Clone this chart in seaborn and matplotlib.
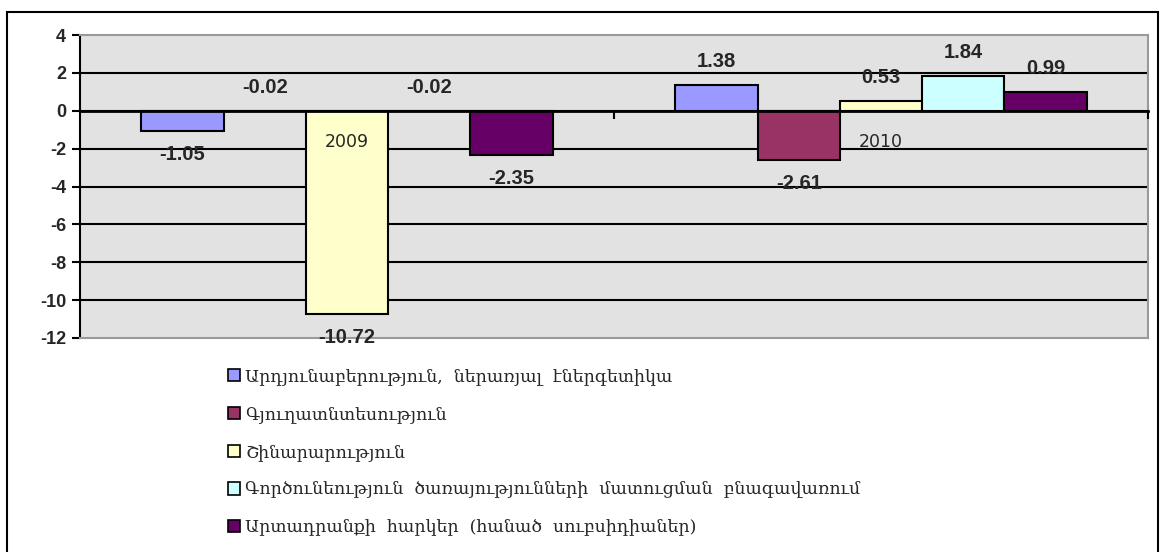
import matplotlib
matplotlib.use("Agg")
import matplotlib.pyplot as plt
import matplotlib.patches as mpatches
import seaborn as sns
import pandas as pd

years = ["2009", "2010"]
sectors = [
    "Արդյունաբերություն,  ներառյալ  էներգետիկա",
    "Գյուղատնտեսություն",
    "Շինարարություն",
    "Գործունեություն  ծառայությունների  մատուցման  բնագավառում",
    "Արտադրանքի  հարկեր  (հանած  սուբսիդիաներ)",
]
vals_2009 = [-1.05, -0.02, -10.72, -0.02, -2.35]
vals_2010 = [1.38, -2.61, 0.53, 1.84, 0.99]
colors = ["#9999FF", "#993366", "#FFFFCC", "#CCFFFF", "#660066"]

df = pd.DataFrame({
    "year": [years[0]] * 5 + [years[1]] * 5,
    "sector": sectors * 2,
    "value": vals_2009 + vals_2010,
})

sns.set_style("white")
fig = plt.figure(figsize=(11.63, 5.52), dpi=100)
ax = fig.add_axes([80 / 1163, 1 - 338 / 552, (1148 - 80) / 1163, (338 - 35) / 552])

sns.barplot(data=df, x="year", y="value", hue="sector", hue_order=sectors,
            palette=colors, saturation=1, width=0.77, edgecolor="black", linewidth=1.5,
            legend=False, ax=ax, zorder=3)

ax.set_facecolor("#e2e2e2")
ax.set_ylim(-12, 4)
ax.set_xlim(-0.5, 1.5)
ax.set_yticks(range(-12, 5, 2))
ax.set_yticklabels([str(t) for t in range(-12, 5, 2)],
                   fontfamily="Liberation Sans", fontweight="bold", fontsize=13)
ax.tick_params(axis="y", direction="out", length=6, width=1.5, color="black", pad=4, left=True)
ax.set_xticks([])
ax.set_xlabel("")
ax.set_ylabel("")
for y in range(-10, 3, 2):
    ax.axhline(y, color="black", lw=1.5, zorder=1)
for s in ["top", "right", "bottom"]:
    ax.spines[s].set_color("#9a9a9a")
    ax.spines[s].set_linewidth(1.5)
ax.spines["left"].set_color("black")
ax.spines["left"].set_linewidth(1.5)

# zero axis with category labels
sec = ax.secondary_xaxis(0.75)
sec.set_alignment("bottom")
sec.set_xticks([0, 1])
sec.set_xticklabels(years, fontfamily="DejaVu Sans", fontsize=12.5)
sec.set_xticks([0.5, 1.5], minor=True)
sec.tick_params(axis="x", which="major", length=0, pad=16)
sec.tick_params(axis="x", which="minor", length=6, width=1.5, color="black")
sec.spines["bottom"].set_linewidth(2)
sec.spines["bottom"].set_color("black")
sec.set_zorder(5)

# data labels
for cont in ax.containers:
    for bar in cont:
        v = bar.get_height()
        x = bar.get_x() + bar.get_width() / 2
        if v > -0.1:
            off = 17
            y = max(v, 0)
        else:
            off = -17
            y = v
        ax.annotate(f"{v:.2f}", (x, y), xytext=(0, off), textcoords="offset points",
                    ha="center", va="center", fontfamily="Liberation Sans",
                    fontweight="bold", fontsize=14.5, zorder=6, annotation_clip=False)

handles = [mpatches.Patch(facecolor=c, edgecolor="black", linewidth=1.2) for c in colors]
fig.legend(handles, sectors, loc="upper left", bbox_to_anchor=(228 / 1163, 1 - 368 / 552),
           frameon=False, prop={"family": "DejaVu Serif", "size": 12.5},
           handlelength=0.7, handleheight=0.7, handletextpad=0.3, labelspacing=1.2,
           borderaxespad=0, borderpad=0)

border = mpatches.Rectangle((7 / 1163, -0.1), (1158 - 7) / 1163, 1.1 - 12 / 552,
                            transform=fig.transFigure, fill=False, edgecolor="black",
                            linewidth=1.5, clip_on=False)
fig.patches.append(border)

fig.savefig("out.png", dpi=100)
